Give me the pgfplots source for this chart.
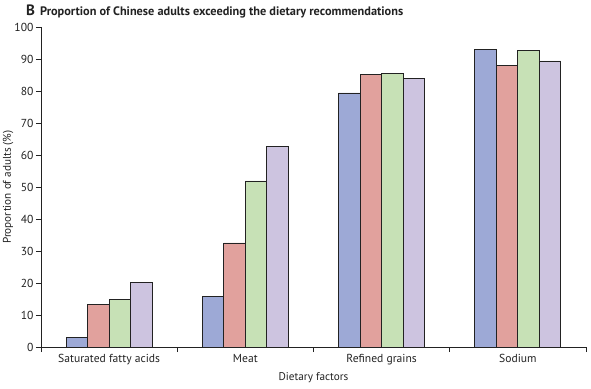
\documentclass[border=0pt]{standalone}
\usepackage{pgfplots}
\pgfplotsset{compat=1.18}
\usepackage{fontspec}
\setmainfont{PT Sans}
\definecolor{cblue}{HTML}{9DA9D6}
\definecolor{cred}{HTML}{E1A19D}
\definecolor{cgreen}{HTML}{C7E1B6}
\definecolor{cpurple}{HTML}{CDC4E0}
\definecolor{axc}{HTML}{222222}
\begin{document}
\begin{tikzpicture}
\path[use as bounding box] (-41pt,-41pt) rectangle (550pt,347pt);
\begin{axis}[
  at={(0,0)}, anchor=south west,
  scale only axis, width=545pt, height=320pt,
  ybar=0pt, bar width=21.5pt,
  xmin=-0.5, xmax=3.5, ymin=0, ymax=100,
  axis lines*=left,
  axis line style={axc, line width=0.9pt},
  ytick={0,10,...,100},
  xtick={0,1,2,3},
  xticklabels={Saturated fatty acids, Meat, Refined grains, Sodium},
  minor xtick={-0.5,0.5,1.5,2.5,3.5},
  tick align=outside,
  major tick length=5pt,
  minor tick length=5pt,
  x tick style={draw=none},
  minor x tick style={draw=axc, line width=0.9pt},
  y tick style={draw=axc, line width=0.9pt},
  tick label style={font=\fontsize{11.6}{13}\selectfont, text=axc},
  /pgf/number format/assume math mode=true,
  xticklabel style={yshift=1pt},
  yticklabel style={xshift=1pt},
  ylabel={Proportion of adults (\%)},
  ylabel style={font=\fontsize{11.2}{13}\selectfont, text=axc, at={(axis description cs:0,0.5)}, anchor=center, yshift=33pt},
  xlabel={Dietary factors},
  xlabel style={font=\fontsize{11.2}{13}\selectfont, text=axc, at={(axis description cs:0.5,0)}, anchor=center, yshift=-31pt},
  every axis plot/.append style={draw=axc, line width=0.8pt},
  clip=false,
]
\addplot[fill=cblue, draw=axc] coordinates {(0,3.0) (1,15.7) (2,79.4) (3,93.1)};
\addplot[fill=cred, draw=axc] coordinates {(0,13.4) (1,32.5) (2,85.3) (3,88.0)};
\addplot[fill=cgreen, draw=axc] coordinates {(0,14.9) (1,51.9) (2,85.6) (3,92.6)};
\addplot[fill=cpurple, draw=axc] coordinates {(0,20.1) (1,62.8) (2,83.8) (3,89.4)};
\end{axis}
\node[anchor=base west, inner sep=0pt, text=axc] at (-15pt,331pt) {\fontsize{15}{17}\selectfont\bfseries B\hspace{5pt}\fontsize{12.3}{14}\selectfont Proportion of Chinese adults exceeding the dietary recommendations};
\end{tikzpicture}
\end{document}
